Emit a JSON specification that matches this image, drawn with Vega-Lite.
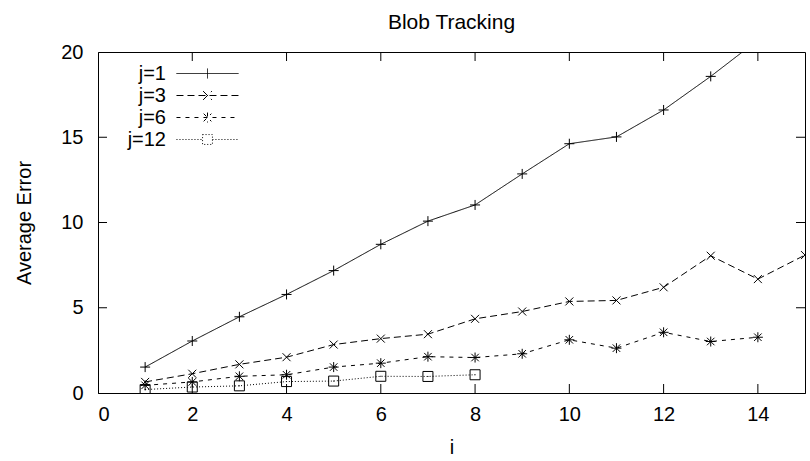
{
  "$schema": "https://vega.github.io/schema/vega-lite/v6.json",
  "width": 707,
  "height": 341,
  "autosize": {"type": "none"},
  "padding": {"left": 98, "top": 52, "right": 5, "bottom": 68},
  "background": "white",
  "title": {
    "text": "Blob Tracking",
    "font": "Liberation Sans",
    "fontSize": 21,
    "fontWeight": "normal",
    "color": "black",
    "anchor": "middle",
    "frame": "group",
    "baseline": "alphabetic",
    "offset": -8
  },
  "config": {
    "view": {"stroke": "black", "strokeWidth": 1},
    "axis": {
      "labelFont": "Liberation Sans",
      "labelFontSize": 20,
      "labelColor": "black",
      "titleFont": "Liberation Sans",
      "titleFontSize": 20,
      "titleFontWeight": "normal",
      "titleColor": "black",
      "domainColor": "black",
      "ticks": false,
      "grid": false
    },
    "legend": {
      "labelFont": "Liberation Sans",
      "labelFontSize": 20,
      "labelColor": "black"
    }
  },
  "data": {
    "values": [
      {"i": 1, "err": 1.52, "j": "j=1"},
      {"i": 2, "err": 3.05, "j": "j=1"},
      {"i": 3, "err": 4.47, "j": "j=1"},
      {"i": 4, "err": 5.78, "j": "j=1"},
      {"i": 5, "err": 7.18, "j": "j=1"},
      {"i": 6, "err": 8.72, "j": "j=1"},
      {"i": 7, "err": 10.08, "j": "j=1"},
      {"i": 8, "err": 11.03, "j": "j=1"},
      {"i": 9, "err": 12.85, "j": "j=1"},
      {"i": 10, "err": 14.62, "j": "j=1"},
      {"i": 11, "err": 15.02, "j": "j=1"},
      {"i": 12, "err": 16.6, "j": "j=1"},
      {"i": 13, "err": 18.57, "j": "j=1"},
      {"i": 14, "err": 20.7, "j": "j=1"},
      {"i": 1, "err": 0.65, "j": "j=3"},
      {"i": 2, "err": 1.13, "j": "j=3"},
      {"i": 3, "err": 1.68, "j": "j=3"},
      {"i": 4, "err": 2.1, "j": "j=3"},
      {"i": 5, "err": 2.84, "j": "j=3"},
      {"i": 6, "err": 3.19, "j": "j=3"},
      {"i": 7, "err": 3.45, "j": "j=3"},
      {"i": 8, "err": 4.35, "j": "j=3"},
      {"i": 9, "err": 4.78, "j": "j=3"},
      {"i": 10, "err": 5.37, "j": "j=3"},
      {"i": 11, "err": 5.43, "j": "j=3"},
      {"i": 12, "err": 6.2, "j": "j=3"},
      {"i": 13, "err": 8.05, "j": "j=3"},
      {"i": 14, "err": 6.68, "j": "j=3"},
      {"i": 15, "err": 8.09, "j": "j=3"},
      {"i": 1, "err": 0.45, "j": "j=6"},
      {"i": 2, "err": 0.65, "j": "j=6"},
      {"i": 3, "err": 0.98, "j": "j=6"},
      {"i": 4, "err": 1.07, "j": "j=6"},
      {"i": 5, "err": 1.52, "j": "j=6"},
      {"i": 6, "err": 1.75, "j": "j=6"},
      {"i": 7, "err": 2.13, "j": "j=6"},
      {"i": 8, "err": 2.08, "j": "j=6"},
      {"i": 9, "err": 2.3, "j": "j=6"},
      {"i": 10, "err": 3.12, "j": "j=6"},
      {"i": 11, "err": 2.63, "j": "j=6"},
      {"i": 12, "err": 3.56, "j": "j=6"},
      {"i": 13, "err": 3.02, "j": "j=6"},
      {"i": 14, "err": 3.27, "j": "j=6"},
      {"i": 1, "err": 0.2, "j": "j=12"},
      {"i": 2, "err": 0.35, "j": "j=12"},
      {"i": 3, "err": 0.42, "j": "j=12"},
      {"i": 4, "err": 0.67, "j": "j=12"},
      {"i": 5, "err": 0.7, "j": "j=12"},
      {"i": 6, "err": 0.98, "j": "j=12"},
      {"i": 7, "err": 0.97, "j": "j=12"},
      {"i": 8, "err": 1.07, "j": "j=12"}
    ]
  },
  "layer": [
    {
      "mark": {"type": "line", "color": "black", "strokeWidth": 1, "clip": true},
      "encoding": {
        "x": {
          "field": "i", "type": "quantitative",
          "scale": {"domain": [0, 15], "nice": false, "zero": false},
          "axis": {
            "orient": "bottom",
            "title": "i",
            "values": [0, 2, 4, 6, 8, 10, 12, 14],
            "labelPadding": 11,
            "titleX": 353.5,
            "titleY": 54,
            "titleBaseline": "middle"
          }
        },
        "y": {
          "field": "err", "type": "quantitative",
          "scale": {"domain": [0, 20], "nice": false},
          "axis": {
            "orient": "left",
            "title": "Average Error",
            "values": [0, 5, 10, 15, 20],
            "labelPadding": 15,
            "titleX": -74,
            "titleY": 170.5,
            "titleAngle": -90,
            "titleBaseline": "middle",
            "titleAlign": "center"
          }
        },
        "strokeDash": {
          "field": "j", "type": "nominal",
          "scale": {
            "domain": ["j=1", "j=3", "j=6", "j=12"],
            "range": [[1, 0], [7, 4], [4, 5], [1, 2]]
          },
          "legend": {
            "orient": "none",
            "legendX": 98,
            "legendY": 10,
            "title": null,
            "padding": 0,
            "rowPadding": 0,
            "symbolSize": 484,
            "symbolStrokeColor": "black",
            "symbolStrokeWidth": 1,
            "symbolFillColor": "transparent",
            "labelAlign": "right",
            "labelBaseline": "middle",
            "labelOffset": -53,
            "encode": {
              "symbols": {
                "update": {
                  "shape": {
                    "signal": "datum.value === 'j=1' ? 'M-2.82,0H2.82M0,-0.45V0.45' : datum.value === 'j=3' ? 'M-2.82,0H2.82M-0.4,-0.4L0.4,0.4M-0.4,0.4L0.4,-0.4' : datum.value === 'j=6' ? 'M-2.82,0H2.82M0,-0.45V0.45M-0.35,-0.35L0.35,0.35M-0.35,0.35L0.35,-0.35' : 'M-2.82,0H-0.45M0.45,0H2.82M-0.45,-0.45H0.45V0.45H-0.45Z'"
                  },
                  "fill": {"value": "transparent"},
                  "stroke": {"value": "black"}
                }
              }
            }
          }
        }
      }
    },
    {
      "transform": [{"filter": "datum.j === 'j=1'"}],
      "mark": {"type": "point", "shape": "M-1,0H1M0,-1V1", "filled": false, "color": "black", "strokeWidth": 1, "size": 100, "opacity": 1, "clip": true},
      "encoding": {
        "x": {"field": "i", "type": "quantitative", "scale": {"domain": [0, 15], "nice": false, "zero": false}, "axis": null},
        "y": {"field": "err", "type": "quantitative", "scale": {"domain": [0, 20], "nice": false}, "axis": null}
      }
    },
    {
      "transform": [{"filter": "datum.j === 'j=3'"}],
      "mark": {"type": "point", "shape": "M-0.8,-0.8L0.8,0.8M-0.8,0.8L0.8,-0.8", "filled": false, "color": "black", "strokeWidth": 1, "size": 100, "opacity": 1, "clip": true},
      "encoding": {
        "x": {"field": "i", "type": "quantitative", "scale": {"domain": [0, 15], "nice": false, "zero": false}, "axis": null},
        "y": {"field": "err", "type": "quantitative", "scale": {"domain": [0, 20], "nice": false}, "axis": null}
      }
    },
    {
      "transform": [{"filter": "datum.j === 'j=6'"}],
      "mark": {"type": "point", "shape": "M-1,0H1M0,-1V1M-0.75,-0.75L0.75,0.75M-0.75,0.75L0.75,-0.75", "filled": false, "color": "black", "strokeWidth": 1, "size": 100, "opacity": 1, "clip": true},
      "encoding": {
        "x": {"field": "i", "type": "quantitative", "scale": {"domain": [0, 15], "nice": false, "zero": false}, "axis": null},
        "y": {"field": "err", "type": "quantitative", "scale": {"domain": [0, 20], "nice": false}, "axis": null}
      }
    },
    {
      "transform": [{"filter": "datum.j === 'j=12'"}],
      "mark": {"type": "point", "shape": "M-1,-1H1V1H-1ZM-0.1,0H0.1", "filled": false, "color": "black", "strokeWidth": 1, "size": 100, "opacity": 1, "clip": true},
      "encoding": {
        "x": {"field": "i", "type": "quantitative", "scale": {"domain": [0, 15], "nice": false, "zero": false}, "axis": null},
        "y": {"field": "err", "type": "quantitative", "scale": {"domain": [0, 20], "nice": false}, "axis": null}
      }
    },
    {
      "transform": [{"filter": "datum.j === 'j=3' && datum.i % 2 === 0"}],
      "mark": {"type": "tick", "orient": "vertical", "size": 18, "thickness": 1, "color": "black", "opacity": 1, "clip": true},
      "encoding": {
        "x": {"field": "i", "type": "quantitative", "scale": {"domain": [0, 15], "nice": false, "zero": false}, "axis": null},
        "y": {"datum": 0, "type": "quantitative", "scale": {"domain": [0, 20], "nice": false}, "axis": null}
      }
    },
    {
      "transform": [{"filter": "datum.j === 'j=3' && datum.i % 2 === 0"}],
      "mark": {"type": "tick", "orient": "vertical", "size": 18, "thickness": 1, "color": "black", "opacity": 1, "clip": true},
      "encoding": {
        "x": {"field": "i", "type": "quantitative", "scale": {"domain": [0, 15], "nice": false, "zero": false}, "axis": null},
        "y": {"datum": 20, "type": "quantitative", "scale": {"domain": [0, 20], "nice": false}, "axis": null}
      }
    },
    {
      "data": {"values": [{}]},
      "mark": {"type": "tick", "orient": "horizontal", "size": 18, "thickness": 1, "color": "black", "opacity": 1, "clip": true},
      "encoding": {
        "x": {"datum": 0, "type": "quantitative", "scale": {"domain": [0, 15], "nice": false, "zero": false}, "axis": null},
        "y": {"datum": 5, "type": "quantitative", "scale": {"domain": [0, 20], "nice": false}, "axis": null}
      }
    },
    {
      "data": {"values": [{}]},
      "mark": {"type": "tick", "orient": "horizontal", "size": 18, "thickness": 1, "color": "black", "opacity": 1, "clip": true},
      "encoding": {
        "x": {"datum": 0, "type": "quantitative", "scale": {"domain": [0, 15], "nice": false, "zero": false}, "axis": null},
        "y": {"datum": 10, "type": "quantitative", "scale": {"domain": [0, 20], "nice": false}, "axis": null}
      }
    },
    {
      "data": {"values": [{}]},
      "mark": {"type": "tick", "orient": "horizontal", "size": 18, "thickness": 1, "color": "black", "opacity": 1, "clip": true},
      "encoding": {
        "x": {"datum": 0, "type": "quantitative", "scale": {"domain": [0, 15], "nice": false, "zero": false}, "axis": null},
        "y": {"datum": 15, "type": "quantitative", "scale": {"domain": [0, 20], "nice": false}, "axis": null}
      }
    },
    {
      "data": {"values": [{}]},
      "mark": {"type": "tick", "orient": "horizontal", "size": 18, "thickness": 1, "color": "black", "opacity": 1, "clip": true},
      "encoding": {
        "x": {"datum": 15, "type": "quantitative", "scale": {"domain": [0, 15], "nice": false, "zero": false}, "axis": null},
        "y": {"datum": 5, "type": "quantitative", "scale": {"domain": [0, 20], "nice": false}, "axis": null}
      }
    },
    {
      "data": {"values": [{}]},
      "mark": {"type": "tick", "orient": "horizontal", "size": 18, "thickness": 1, "color": "black", "opacity": 1, "clip": true},
      "encoding": {
        "x": {"datum": 15, "type": "quantitative", "scale": {"domain": [0, 15], "nice": false, "zero": false}, "axis": null},
        "y": {"datum": 10, "type": "quantitative", "scale": {"domain": [0, 20], "nice": false}, "axis": null}
      }
    },
    {
      "data": {"values": [{}]},
      "mark": {"type": "tick", "orient": "horizontal", "size": 18, "thickness": 1, "color": "black", "opacity": 1, "clip": true},
      "encoding": {
        "x": {"datum": 15, "type": "quantitative", "scale": {"domain": [0, 15], "nice": false, "zero": false}, "axis": null},
        "y": {"datum": 15, "type": "quantitative", "scale": {"domain": [0, 20], "nice": false}, "axis": null}
      }
    }
  ],
  "resolve": {
    "scale": {"x": "independent", "y": "independent"},
    "axis": {"x": "independent", "y": "independent"}
  }
}
